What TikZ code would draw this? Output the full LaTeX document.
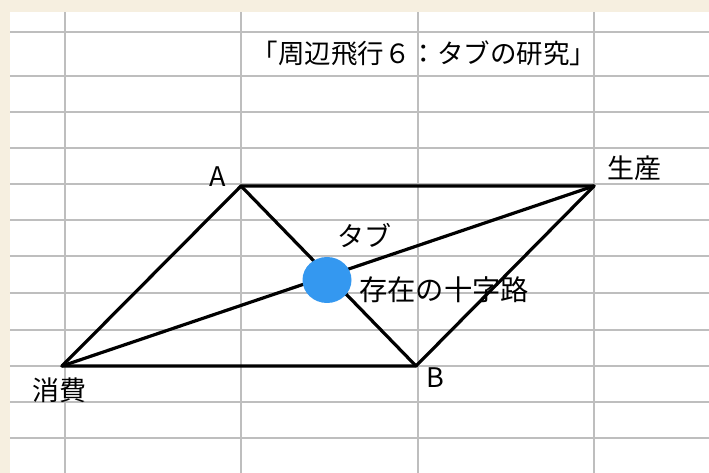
\documentclass[tikz,border=0pt]{standalone}
\usepackage{fontspec}
\setmainfont{Noto Sans CJK JP}
\usetikzlibrary{shapes.geometric}
\definecolor{beige}{RGB}{246,239,224}
\definecolor{gridgray}{RGB}{190,190,190}
\definecolor{dotblue}{RGB}{52,152,240}
\tikzset{
  gridline/.style={draw=gridgray, line width=1.5pt},
  edge/.style={draw=black, line width=3.2pt, line cap=round, line join=round},
  lbl/.style={inner sep=0pt, font=\fontsize{27}{27}\selectfont},
}
\begin{document}
\begin{tikzpicture}[x=1pt,y=1pt]
\useasboundingbox (0,0) rectangle (709,473);
\fill[beige] (0,0) rectangle (709,473);
\fill[white] (10,0) rectangle (709,461);
% grid
\foreach \gx in {65,241,418,594} {\draw[gridline] (\gx,0) -- (\gx,461);}
\foreach \gy in {32,76,112,148,184,220,256,293,330,366,402,438} {\draw[gridline] (10,473-\gy) -- (709,473-\gy);}
% title
\node[lbl, font=\fontsize{26.5}{26.5}\selectfont] (title) at (424,473-53) {「周辺飛行６：タブの研究」};
% corners
\coordinate (a) at (241,473-186);
\coordinate (p) at (594,473-186);
\coordinate (b) at (416,473-366);
\coordinate (c) at (62,473-366);
% parallelogram and diagonals
\draw[edge] (c) -- (a) -- (p) -- (b) -- cycle;
\draw[edge] (a) -- (b);
\draw[edge] (c) -- (p);
% blue dot
\node[fill=dotblue, ellipse, minimum width=49pt, minimum height=46pt, inner sep=0pt] (tab) at (327,473-280) {};
% labels
\node[lbl] (la) at (218,473-177) {A};
\node[lbl] (lp) at (634,473-168) {生産};
\node[lbl] (lb) at (435,473-378) {B};
\node[lbl] (lc) at (59,473-390) {消費};
\node[lbl] (lt) at (364,473-236) {タブ};
\node[lbl, anchor=west, font=\fontsize{28.3}{28.3}\selectfont] (lx) at (359,473-290) {存在の十字路};
\end{tikzpicture}
\end{document}
